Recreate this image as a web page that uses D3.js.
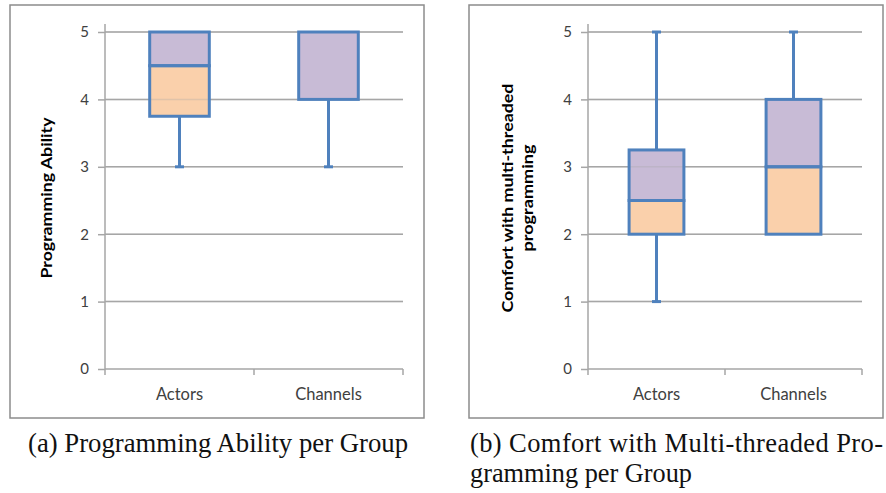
<!DOCTYPE html>
<html>
<head>
  <title>Box plots per group</title>
  <script src="https://d3js.org/d3.v7.min.js"></script>
  <style>
    body { margin: 0; background: #fff; }
    .tick text { font-family: Lato, "Open Sans", sans-serif; font-size: 15px; fill: #404040; }
    .ylabel { font-family: Lato, "Open Sans", sans-serif; font-weight: bold; font-size: 16px; fill: #000; }
    .caption { font-family: "Liberation Serif", "DejaVu Serif", serif; font-size: 26.5px; fill: #111; }
  </style>
</head>
<body>
  <div id="chart"></div>
  <script>
    // Data
    const categories = ["Actors", "Channels"];
    const yTicks = [0, 1, 2, 3, 4, 5];

    // (a) Programming Ability
    const abilityMin = [3, 3];
    const abilityQ1 = [3.75, 4];
    const abilityMedian = [4.5, 4];
    const abilityQ3 = [5, 5];
    const abilityMax = [5, 5];

    // (b) Comfort with multi-threaded programming
    const comfortMin = [1, 2];
    const comfortQ1 = [2, 2];
    const comfortMedian = [2.5, 3];
    const comfortQ3 = [3.25, 4];
    const comfortMax = [5, 5];

    const blue = "#4f81bd";
    const peach = "#fad0ab";
    const purple = "#c8bbd6";
    const gridColor = "#a6a6a6";

    const svg = d3.select("#chart")
      .append("svg")
      .attr("width", 886)
      .attr("height", 493);

    function toRows(mins, q1s, meds, q3s, maxs) {
      return categories.map((c, i) => ({
        cat: c, min: mins[i], q1: q1s[i], med: meds[i], q3: q3s[i], max: maxs[i]
      }));
    }

    function drawPanel(p) {
      const g = svg.append("g");

      // outer frame
      g.append("rect")
        .attr("x", p.frame[0]).attr("y", p.frame[1])
        .attr("width", p.frame[2] - p.frame[0]).attr("height", p.frame[3] - p.frame[1])
        .attr("fill", "none").attr("stroke", "#8c8c8c").attr("stroke-width", 1.5);

      const x = d3.scaleBand().domain(categories).range([p.left, p.right]).paddingInner(0).paddingOuter(0);
      const y = d3.scaleLinear().domain([0, 5]).range([369, 32]);

      // gridlines
      g.selectAll(".grid")
        .data(yTicks.slice(1))
        .enter().append("line")
        .attr("x1", p.left).attr("x2", p.right)
        .attr("y1", d => y(d)).attr("y2", d => y(d))
        .attr("stroke", gridColor).attr("stroke-width", 1.5);

      // y axis
      const yAxis = g.append("g")
        .attr("transform", "translate(" + p.left + ",0)")
        .call(d3.axisLeft(y).tickValues(yTicks).tickSize(7).tickPadding(9).tickFormat(d3.format("d")));
      yAxis.select(".domain").remove();
      yAxis.selectAll(".tick line").attr("stroke", gridColor).attr("stroke-width", 1.5);
      g.append("line")
        .attr("x1", p.left).attr("x2", p.left).attr("y1", 24).attr("y2", 369)
        .attr("stroke", gridColor).attr("stroke-width", 1.5);

      // x axis line with ticks at category boundaries
      g.append("line")
        .attr("x1", p.left).attr("x2", p.right).attr("y1", y(0)).attr("y2", y(0))
        .attr("stroke", gridColor).attr("stroke-width", 1.5);
      const bounds = categories.map(c => x(c)).concat([x(categories[1]) + x.bandwidth()]);
      g.selectAll(".xtick")
        .data(bounds)
        .enter().append("line")
        .attr("x1", d => d).attr("x2", d => d)
        .attr("y1", y(0)).attr("y2", y(0) + 6)
        .attr("stroke", gridColor).attr("stroke-width", 1.5);
      g.selectAll(".xlabel")
        .data(categories)
        .enter().append("text")
        .attr("x", d => x(d) + x.bandwidth() / 2)
        .attr("y", 400)
        .attr("text-anchor", "middle")
        .style("font-family", "Lato, 'Open Sans', sans-serif")
        .style("font-size", "16.5px")
        .style("fill", "#404040")
        .text(d => d);

      const boxW = x.bandwidth() * 0.4;
      const cx = d => x(d.cat) + x.bandwidth() / 2;

      // lower half of box (q1 -> median)
      g.selectAll(".lower")
        .data(p.rows)
        .enter().append("rect")
        .attr("x", d => cx(d) - boxW / 2).attr("width", boxW)
        .attr("y", d => y(d.med)).attr("height", d => y(d.q1) - y(d.med))
        .attr("fill", peach);

      // upper half of box (median -> q3)
      g.selectAll(".upper")
        .data(p.rows)
        .enter().append("rect")
        .attr("x", d => cx(d) - boxW / 2).attr("width", boxW)
        .attr("y", d => y(d.q3)).attr("height", d => y(d.med) - y(d.q3))
        .attr("fill", purple);

      // gridlines faintly seen through the boxes
      g.selectAll(".grid2")
        .data(yTicks.slice(1))
        .enter().append("line")
        .attr("x1", p.left).attr("x2", p.right)
        .attr("y1", d => y(d)).attr("y2", d => y(d))
        .attr("stroke", gridColor).attr("stroke-width", 1.5).attr("opacity", 0.3);

      // whiskers
      g.selectAll(".whiskLow")
        .data(p.rows.filter(d => d.min < d.q1))
        .enter().append("line")
        .attr("x1", cx).attr("x2", cx)
        .attr("y1", d => y(d.q1)).attr("y2", d => y(d.min))
        .attr("stroke", blue).attr("stroke-width", 3);
      g.selectAll(".whiskHigh")
        .data(p.rows.filter(d => d.max > d.q3))
        .enter().append("line")
        .attr("x1", cx).attr("x2", cx)
        .attr("y1", d => y(d.q3)).attr("y2", d => y(d.max))
        .attr("stroke", blue).attr("stroke-width", 3);
      g.selectAll(".capLow")
        .data(p.rows.filter(d => d.min < d.q1))
        .enter().append("line")
        .attr("x1", d => cx(d) - 4.5).attr("x2", d => cx(d) + 4.5)
        .attr("y1", d => y(d.min)).attr("y2", d => y(d.min))
        .attr("stroke", blue).attr("stroke-width", 3);
      g.selectAll(".capHigh")
        .data(p.rows.filter(d => d.max > d.q3))
        .enter().append("line")
        .attr("x1", d => cx(d) - 4.5).attr("x2", d => cx(d) + 4.5)
        .attr("y1", d => y(d.max)).attr("y2", d => y(d.max))
        .attr("stroke", blue).attr("stroke-width", 3);

      // box outlines
      g.selectAll(".lowerOutline")
        .data(p.rows.filter(d => d.med > d.q1))
        .enter().append("rect")
        .attr("x", d => cx(d) - boxW / 2).attr("width", boxW)
        .attr("y", d => y(d.med)).attr("height", d => y(d.q1) - y(d.med))
        .attr("fill", "none").attr("stroke", blue).attr("stroke-width", 3);
      g.selectAll(".upperOutline")
        .data(p.rows.filter(d => d.q3 > d.med))
        .enter().append("rect")
        .attr("x", d => cx(d) - boxW / 2).attr("width", boxW)
        .attr("y", d => y(d.q3)).attr("height", d => y(d.med) - y(d.q3))
        .attr("fill", "none").attr("stroke", blue).attr("stroke-width", 3);

      // rotated axis title
      const t = g.append("text")
        .attr("class", "ylabel")
        .attr("transform", "translate(" + p.labelX + ",198) rotate(-90)")
        .attr("text-anchor", "middle");
      p.label.forEach((line, i) => {
        t.append("tspan").attr("x", 0).attr("y", i * 20)
          .attr("textLength", p.labelLen[i]).attr("lengthAdjust", "spacingAndGlyphs")
          .text(line);
      });
    }

    drawPanel({
      frame: [10, 5, 424, 418], left: 105, right: 403, labelX: 52,
      label: ["Programming Ability"], labelLen: [161],
      rows: toRows(abilityMin, abilityQ1, abilityMedian, abilityQ3, abilityMax)
    });
    drawPanel({
      frame: [469, 5, 883, 418], left: 588, right: 862, labelX: 513,
      label: ["Comfort with multi-threaded", "programming"], labelLen: [229, 107],
      rows: toRows(comfortMin, comfortQ1, comfortMedian, comfortQ3, comfortMax)
    });

    // captions
    svg.append("text").attr("class", "caption")
      .attr("x", 28).attr("y", 452)
      .attr("textLength", 380).attr("lengthAdjust", "spacingAndGlyphs")
      .text("(a) Programming Ability per Group");
    svg.append("text").attr("class", "caption")
      .attr("x", 470).attr("y", 452)
      .attr("textLength", 413).attr("lengthAdjust", "spacing")
      .text("(b) Comfort with Multi-threaded Pro-");
    svg.append("text").attr("class", "caption")
      .attr("x", 470).attr("y", 482)
      .attr("textLength", 222).attr("lengthAdjust", "spacingAndGlyphs")
      .text("gramming per Group");
  </script>
</body>
</html>
